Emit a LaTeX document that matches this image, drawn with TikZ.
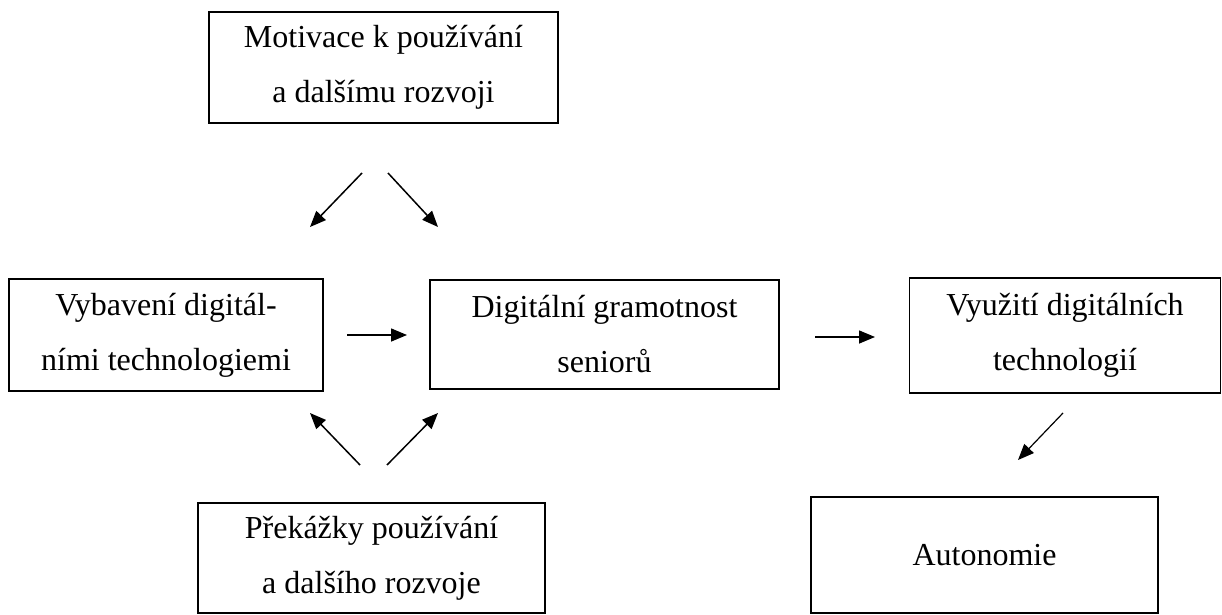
\documentclass[tikz,border=0pt]{standalone}
\usepackage{fontspec}
\setmainfont{Liberation Serif}
\usetikzlibrary{arrows.meta}
\tikzset{
  box/.style={draw, line width=1.6pt, inner sep=0pt, align=center,
    font=\fontsize{32}{55}\selectfont},
  conn/.style={line width=1.5pt, -{Triangle[length=16pt,width=13pt]}},
}
\begin{document}
\begin{tikzpicture}[x=1pt,y=-1pt]
\useasboundingbox (0,0) rectangle (1222,615);
\node[box, minimum width=349pt, minimum height=111pt] (top) at (383.5,67.5) {Motivace k používání\\ a dalšímu rozvoji};
\node[box, minimum width=314pt, minimum height=112pt] (left) at (166,335) {Vybavení digitál-\\ními technologiemi};
\node[box, minimum width=349pt, minimum height=109pt] (center) at (604.5,334.5) {Digitální gramotnost\\seniorů};
\node[box, minimum width=311pt, minimum height=115pt] (right) at (1065,335.5) {Využití digitálních\\technologií};
\node[box, minimum width=347pt, minimum height=110pt] (bl) at (371.5,558) {Překážky používání\\a dalšího rozvoje};
\node[box, minimum width=347pt, minimum height=116pt] (auto) at (984.5,555) {Autonomie};
% arrow end points
\coordinate (a1s) at (362,173); \coordinate (a1e) at (310,227);
\coordinate (a2s) at (388,173); \coordinate (a2e) at (438,227);
\coordinate (a3s) at (347,335); \coordinate (a3e) at (407,335);
\coordinate (a4s) at (815,337); \coordinate (a4e) at (875,337);
\coordinate (a5s) at (360,465); \coordinate (a5e) at (310,413);
\coordinate (a6s) at (387,465); \coordinate (a6e) at (438,413);
\coordinate (a7s) at (1063,413); \coordinate (a7e) at (1018,460);
\draw[conn] (a1s) -- (a1e);
\draw[conn] (a2s) -- (a2e);
\draw[conn] (a3s) -- (a3e);
\draw[conn] (a4s) -- (a4e);
\draw[conn] (a5s) -- (a5e);
\draw[conn] (a6s) -- (a6e);
\draw[conn, line width=1.2pt] (a7s) -- (a7e);
\end{tikzpicture}
\end{document}
